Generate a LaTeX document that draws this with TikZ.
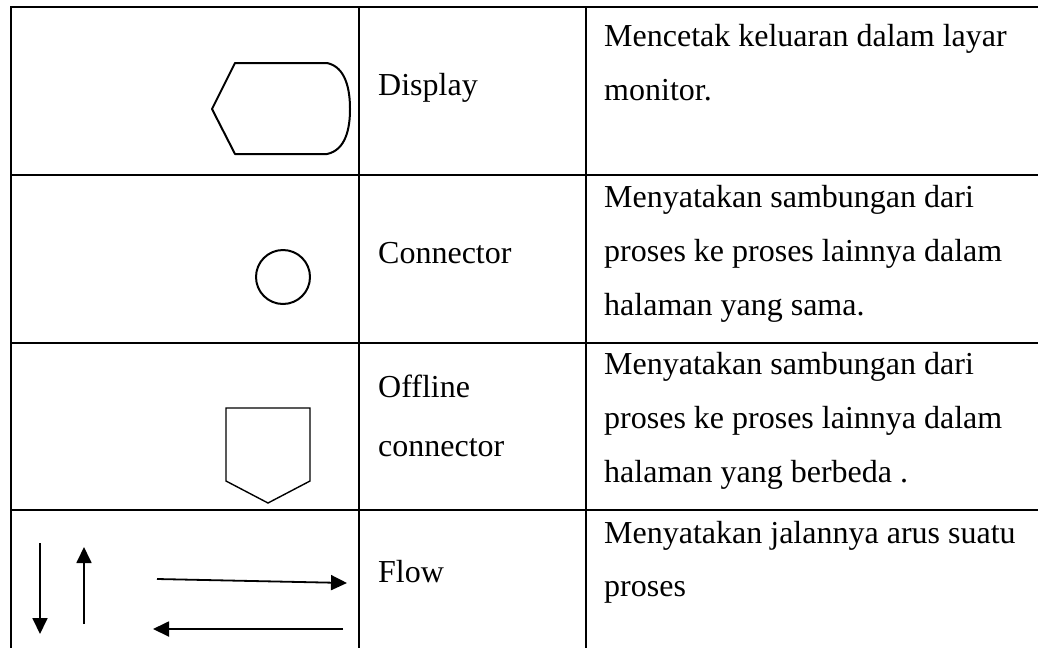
\documentclass[tikz,border=0pt]{standalone}
\usepackage{fontspec}
\setmainfont{Liberation Serif}
\usetikzlibrary{arrows.meta}
\begin{document}
\begin{tikzpicture}[x=1pt,y=-1pt,
  gridline/.style={line width=2pt},
  symline/.style={line width=2pt, line join=round},
  thinsym/.style={line width=1.4pt, line join=miter},
  txt/.style={anchor=base west, inner sep=0pt, font=\fontsize{32}{32}\selectfont},
  flowarrow/.style={line width=1.8pt, -{Triangle[length=16pt,width=15pt]}}]
\useasboundingbox (0,0) rectangle (1038,648);
% table grid
\draw[gridline] (1038,7) -- (11,7) -- (11,648);
\draw[gridline] (359,7) -- (359,648);
\draw[gridline] (586,7) -- (586,648);
\draw[gridline] (11,175) -- (1038,175);
\draw[gridline] (11,343) -- (1038,343);
\draw[gridline] (11,510) -- (1038,510);

% display symbol
\draw[symline] (235,63) -- (327,63)
  .. controls (346,67) and (350,90) .. (350,109)
  .. controls (350,128) and (346,150) .. (327,154)
  -- (235,154) -- (212,109) -- cycle;
% connector symbol
\draw[symline] (283,277) circle[radius=27];
% offline connector symbol
\draw[thinsym] (226,408) -- (310,408) -- (310,481) -- (268,503) -- (226,481) -- cycle;

% flow arrows
\coordinate (d1) at (40,543);  \coordinate (d2) at (40,634);
\coordinate (u1) at (84,624);  \coordinate (u2) at (84,547);
\coordinate (r1) at (157,579); \coordinate (r2) at (347,583);
\coordinate (l1) at (343,629); \coordinate (l2) at (153,629);
\draw[flowarrow] (d1) -- (d2);
\draw[flowarrow] (u1) -- (u2);
\draw[flowarrow] (r1) -- (r2);
\draw[flowarrow] (l1) -- (l2);

% column 2
\node[txt] (n1) at (378,95) {Display};
\node[txt] (n2) at (378,263) {Connector};
\node[txt] (n3a) at (378,397) {Offline};
\node[txt] (n3b) at (378,456) {connector};
\node[txt] (n4) at (378,582) {Flow};

% column 3
\node[txt] (d1a) at (604,46) {Mencetak keluaran dalam layar};
\node[txt] (d1b) at (604,100) {monitor.};
\node[txt] (d2a) at (604,207) {Menyatakan sambungan dari};
\node[txt] (d2b) at (604,261) {proses ke proses lainnya dalam};
\node[txt] (d2c) at (604,315) {halaman yang sama.};
\node[txt] (d3a) at (604,374) {Menyatakan sambungan dari};
\node[txt] (d3b) at (604,428) {proses ke proses lainnya dalam};
\node[txt] (d3c) at (604,482) {halaman yang berbeda .};
\node[txt] (d4a) at (604,543) {Menyatakan jalannya arus suatu};
\node[txt] (d4b) at (604,596) {proses};
\end{tikzpicture}
\end{document}
